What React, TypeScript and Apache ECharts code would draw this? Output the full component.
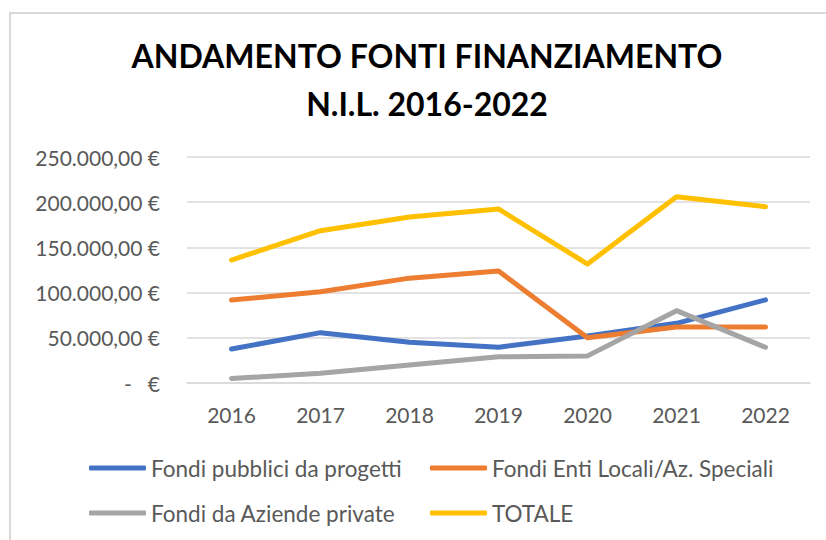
import React, { useEffect, useRef } from "react";
import * as echarts from "echarts";

const years = ["2016", "2017", "2018", "2019", "2020", "2021", "2022"];
const fondiPubblici = [37600, 55700, 45000, 39500, 52000, 66000, 92000];
const fondiEnti = [91800, 101000, 116000, 124000, 50000, 62000, 62000];
const fondiPrivate = [5000, 10700, 20000, 29000, 30000, 80000, 39500];
const totale = [136000, 168500, 183600, 192500, 131600, 206000, 195000];

const seriesNames = [
  "Fondi pubblici da progetti",
  "Fondi Enti Locali/Az. Speciali",
  "Fondi da Aziende private",
  "TOTALE",
];
const seriesColors = ["#4472C4", "#ED7D31", "#A5A5A5", "#FFC000"];
const titleLines = ["ANDAMENTO FONTI FINANZIAMENTO", "N.I.L. 2016-2022"];

const fmt = (v: number) => {
  if (v === 0) return "-\u00a0\u00a0\u00a0€";
  const s = Math.round(v).toString().replace(/\B(?=(\d{3})+(?!\d))/g, ".");
  return s + ",00 €";
};

export default function App() {
  const ref = useRef<HTMLDivElement>(null);
  useEffect(() => {
    if (!ref.current) return;
    const chart = echarts.init(ref.current, undefined, { renderer: "svg" });
    const font = "Lato";
    const data = [fondiPubblici, fondiEnti, fondiPrivate, totale];
    const legendPos = [
      { left: 89, top: 455 },
      { left: 430, top: 455 },
      { left: 89, top: 500 },
      { left: 430, top: 500 },
    ];
    chart.setOption({
      animation: false,
      backgroundColor: "#ffffff",
      title: {
        text: titleLines.join("\n"),
        left: 422,
        top: 26,
        textAlign: "center",
        textStyle: {
          fontFamily: font,
          fontWeight: "bold",
          fontSize: 32,
          lineHeight: 48,
          color: "#000000",
        },
      },
      graphic: [
        {
          type: "rect",
          shape: { x: 10, y: 13, width: 900, height: 600 },
          style: { fill: "none", stroke: "#d9d9d9", lineWidth: 2 },
          silent: true,
        },
      ],
      legend: seriesNames.map((n, i) => ({
        data: [n],
        left: legendPos[i].left,
        top: legendPos[i].top,
        padding: 0,
        icon: "roundRect",
        itemWidth: 57,
        itemHeight: 5,
        textStyle: {
          fontFamily: font,
          fontSize: 22.5,
          lineHeight: 26,
          color: "#595959",
        },
      })),
      grid: { left: 187, right: 16, top: 157, bottom: 157, containLabel: false },
      xAxis: {
        type: "category",
        data: years,
        boundaryGap: true,
        axisLine: { lineStyle: { color: "#d9d9d9", width: 1.5 } },
        axisTick: { show: false },
        axisLabel: {
          fontFamily: font,
          fontSize: 21,
          color: "#595959",
          margin: 21,
        },
      },
      yAxis: {
        type: "value",
        min: 0,
        max: 250000,
        interval: 50000,
        axisLine: { show: false },
        axisTick: { show: false },
        splitLine: { lineStyle: { color: "#d9d9d9", width: 1.5 } },
        axisLabel: {
          fontFamily: font,
          fontSize: 21,
          color: "#595959",
          margin: 27,
          formatter: (v: number) => fmt(v),
        },
      },
      series: seriesNames.map((n, i) => ({
        name: n,
        type: "line",
        data: data[i],
        showSymbol: false,
        symbol: "none",
        color: seriesColors[i],
        lineStyle: { width: 5, color: seriesColors[i], cap: "round", join: "round" },
      })),
    });
    return () => chart.dispose();
  }, []);
  return (
    <div
      ref={ref}
      style={{ position: "absolute", left: 0, top: 0, width: 826, height: 540 }}
    />
  );
}
